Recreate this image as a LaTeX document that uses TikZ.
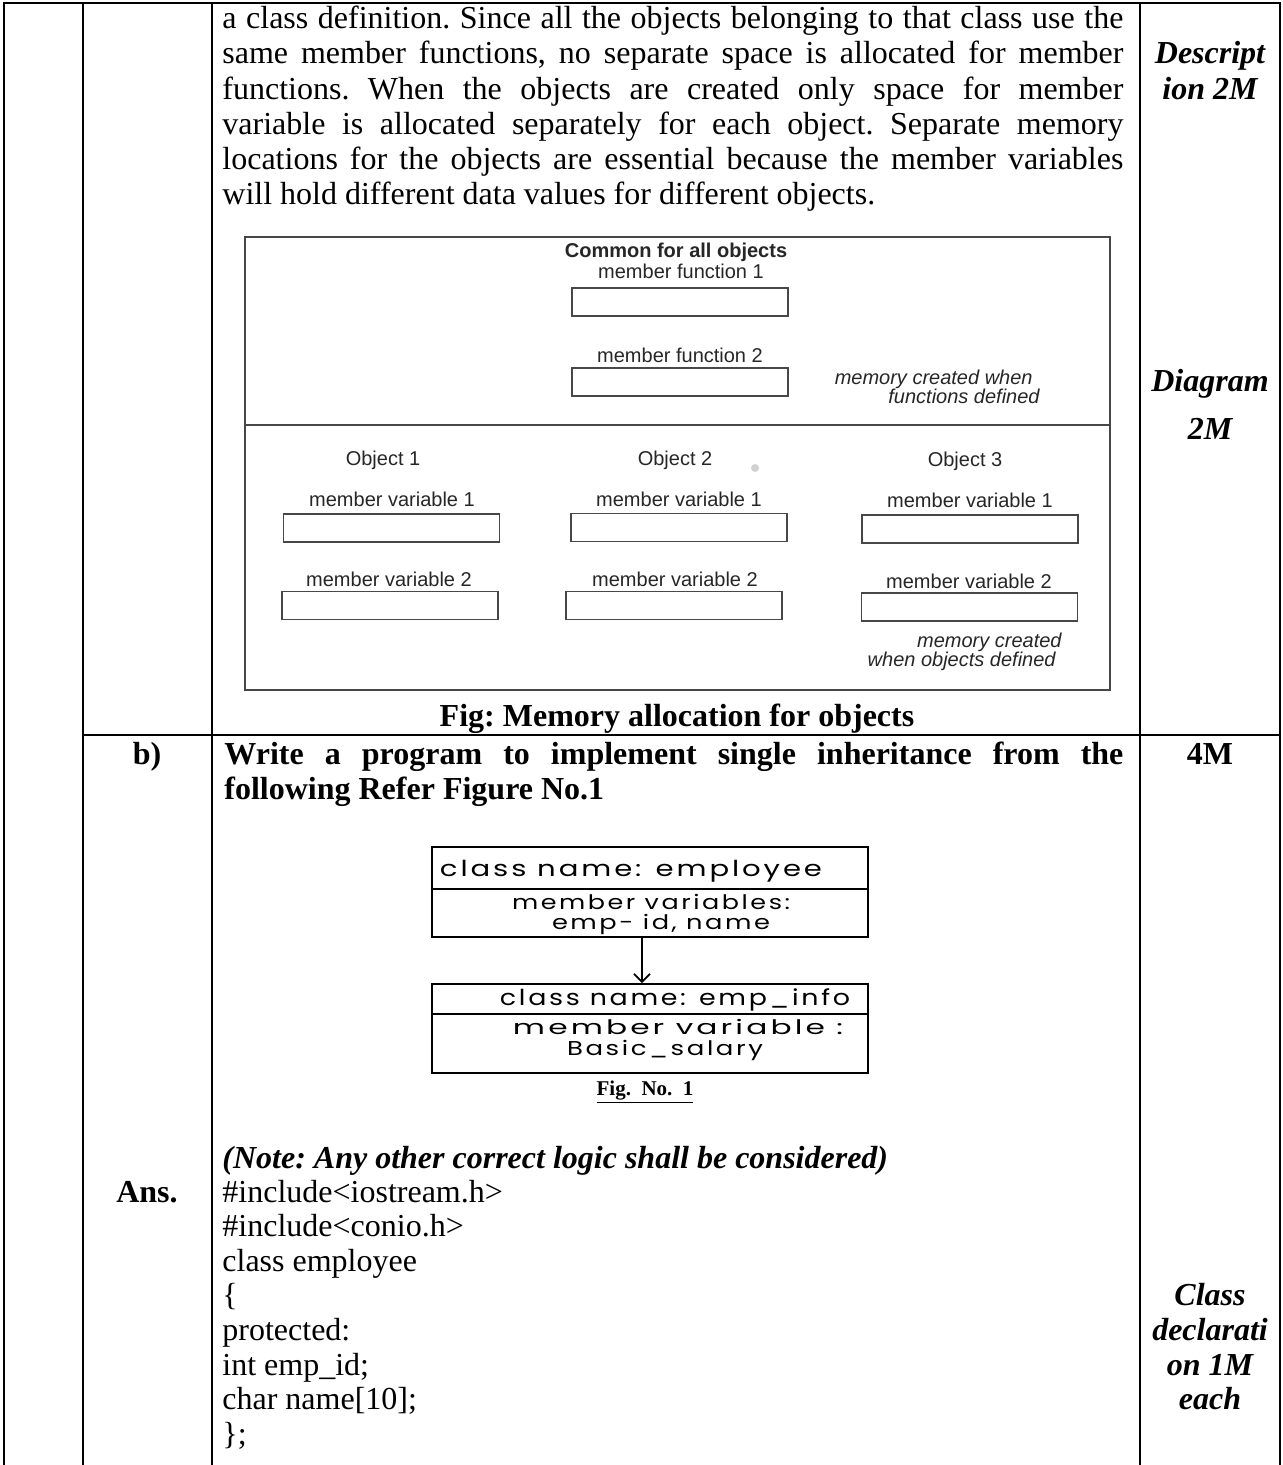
\documentclass[tikz,border=0pt]{standalone}
\usepackage{fontspec}
\usepackage{graphicx}
\setmainfont{Liberation Serif}
\newfontfamily\hv{Liberation Sans}
\newfontfamily\hand{Poppins}[LetterSpace=10]
\usetikzlibrary{arrows.meta}
\newcommand\bodyfs{\fontsize{16pt}{17.5pt}\selectfont\frenchspacing}
\newcommand\svfs{\hv\fontsize{10pt}{12pt}\selectfont}
\newcommand\handfs{\hand\fontsize{10pt}{12pt}\selectfont}
\newcommand\hw[2]{\resizebox{#1}{\height}{#2}}
\tikzset{
  gridline/.style={line width=1.2pt, black},
  tl/.style={anchor=base west, inner sep=0pt, font=\bodyfs},
  tc/.style={anchor=base, inner sep=0pt, font=\bodyfs},
  tcb/.style={anchor=base, inner sep=0pt, font=\bodyfs\bfseries},
  tci/.style={anchor=base, inner sep=0pt, font=\bodyfs\bfseries\itshape},
  scan/.style={draw=black!72, line width=0.9pt},
  sbox/.style={scan, rectangle, minimum width=108pt, minimum height=14pt, inner sep=0pt},
  stext/.style={font=\svfs, text=black!85, inner sep=0pt, anchor=base},
  cline/.style={draw=black, line width=0.9pt},
  cbox/.style={cline, rectangle, minimum width=218pt, inner sep=0pt},
  htext/.style={font=\handfs, inner sep=0pt, anchor=base},
}
\begin{document}
\begin{tikzpicture}[x=0.5pt,y=-0.5pt]
\useasboundingbox (0,0) rectangle (1283,1465);
% ---------- table grid ----------
\draw[gridline] (3,3) -- (1281,3);
\draw[gridline] (4,3) -- (4,1465);
\draw[gridline] (83,3) -- (83,1465);
\draw[gridline] (212,3) -- (212,1465);
\draw[gridline] (1140,3) -- (1140,1465);
\draw[gridline] (1280,3) -- (1280,1465);
\draw[gridline] (83,735) -- (1280,735);
% ---------- paragraph ----------
\node[tl] (p1) at (222,29) {\makebox[450.5pt][s]{a class definition. Since all the objects belonging to that class use the}};
\node[tl] (p2) at (222,64) {\makebox[450.5pt][s]{same member functions, no separate space is allocated for member}};
\node[tl] (p3) at (222,100) {\makebox[450.5pt][s]{functions. When the objects are created only space for member}};
\node[tl] (p4) at (222,135) {\makebox[450.5pt][s]{variable is allocated separately for each object. Separate memory}};
\node[tl] (p5) at (222,170) {\makebox[450.5pt][s]{locations for the objects are essential because the member variables}};
\node[tl] (p6) at (222,205) {will hold different data values for different objects.};
\node[tci] (m1) at (1210,64) {Descript};
\node[tci] (m2) at (1210,100) {ion 2M};
\node[tci] (m3) at (1210,391) {Diagram};
\node[tci] (m4) at (1210,439) {2M};
% ---------- memory diagram ----------
\draw[scan] (245,237) rectangle (1110,690);
\draw[scan] (245,425) -- (1110,425);
\node[stext, font=\svfs\bfseries] (common) at (676,258) {Common for all objects};
\node[stext] (mft1) at (681,279) {member function 1};
\node[sbox] (mf1) at (680,302) {};
\node[stext] (mft2) at (680,362) {member function 2};
\node[sbox] (mf2) at (680,382) {};
\node[stext, anchor=base east, font=\svfs\itshape] (mc1) at (1033,384) {memory created when};
\node[stext, anchor=base east, font=\svfs\itshape] (mc2) at (1040,403) {functions defined};
\node[stext] (o1) at (383,465) {Object 1};
\node[stext] (o2) at (675,465) {Object 2};
\node[stext] (o3) at (965,466) {Object 3};
\fill[black!18] (755,468) circle (4);
\node[stext] (v11t) at (392,506) {member variable 1};
\node[stext] (v21t) at (679,506) {member variable 1};
\node[stext] (v31t) at (970,507) {member variable 1};
\node[sbox] (v11) at (391.5,528) {};
\node[sbox] (v21) at (679,527.5) {};
\node[sbox] (v31) at (970,529) {};
\node[stext] (v12t) at (389,586) {member variable 2};
\node[stext] (v22t) at (675,586) {member variable 2};
\node[stext] (v32t) at (969,588) {member variable 2};
\node[sbox] (v12) at (390,605.5) {};
\node[sbox] (v22) at (674,605.5) {};
\node[sbox] (v32) at (969.5,607) {};
\node[stext, anchor=base east, font=\svfs\itshape] (mo1) at (1062,647) {memory created};
\node[stext, anchor=base east, font=\svfs\itshape] (mo2) at (1056,666) {when objects defined};
\node[tcb] (cap1) at (677,726) {Fig: Memory allocation for objects};
% ---------- part b ----------
\node[tcb] (b) at (147,764) {b)};
\node[tl, font=\bodyfs\bfseries] (q1) at (224,764) {\makebox[449.5pt][s]{Write a program to implement single inheritance from the}};
\node[tl, font=\bodyfs\bfseries] (q2) at (224,799) {following Refer Figure No.1};
\node[tcb] (fourm) at (1210,764) {4M};
% ---------- class diagram ----------
\node[cbox, minimum height=45pt] (cls1) at (650,892) {};
\draw[cline] (cls1.west |- 0,889) -- (cls1.east |- 0,889);
\node[cbox, minimum height=44.5pt] (cls2) at (650,1028.5) {};
\draw[cline] (cls2.west |- 0,1014) -- (cls2.east |- 0,1014);
\coordinate (ax) at (642,0);
\draw[cline, -{Straight Barb[length=4pt,width=8pt]}] (cls1.south -| ax) -- (cls2.north -| ax);
\node[htext, font=\hand\fontsize{11pt}{13pt}\selectfont] (h1) at (631,876) {\hw{191pt}{class name: employee}};
\node[htext] (h2) at (651,909) {\hw{139pt}{member variables:}};
\node[htext] (h3) at (661,929) {\hw{109pt}{emp- id, name}};
\node[htext, font=\hand\fontsize{11pt}{13pt}\selectfont] (h4) at (675,1005) {\hw{175pt}{class name: emp\_info}};
\node[htext] (h5) at (678,1034) {\hw{165pt}{member variable :}};
\node[htext] (h6) at (665,1055) {\hw{98pt}{Basic\_salary}};
\node[anchor=base, inner sep=0pt, font=\fontsize{10.5pt}{12pt}\selectfont\bfseries] (fig1) at (645,1095) {\underline{Fig.\ \ No.\ \ 1}};
% ---------- answer ----------
\node[tl, font=\bodyfs\bfseries\itshape] (note) at (222,1168) {(Note: Any other correct logic shall be considered)};
\node[tcb] (ans) at (147,1202) {Ans.};
\node[tl] (c1) at (222,1202) {\#include<iostream.h>};
\node[tl] (c2) at (222,1236.6) {\#include<conio.h>};
\node[tl] (c3) at (222,1271.2) {class employee};
\node[tl] (c4) at (222,1305.8) {\{};
\node[tl] (c5) at (222,1340.4) {protected:};
\node[tl] (c6) at (222,1375) {int emp\_id;};
\node[tl] (c7) at (222,1409.6) {char name[10];};
\node[tl] (c8) at (222,1444.2) {\};};
\node[tci] (r1) at (1210,1305.8) {Class};
\node[tci] (r2) at (1210,1340.4) {declarati};
\node[tci] (r3) at (1210,1375) {on 1M};
\node[tci] (r4) at (1210,1409.6) {each};
\end{tikzpicture}
\end{document}
